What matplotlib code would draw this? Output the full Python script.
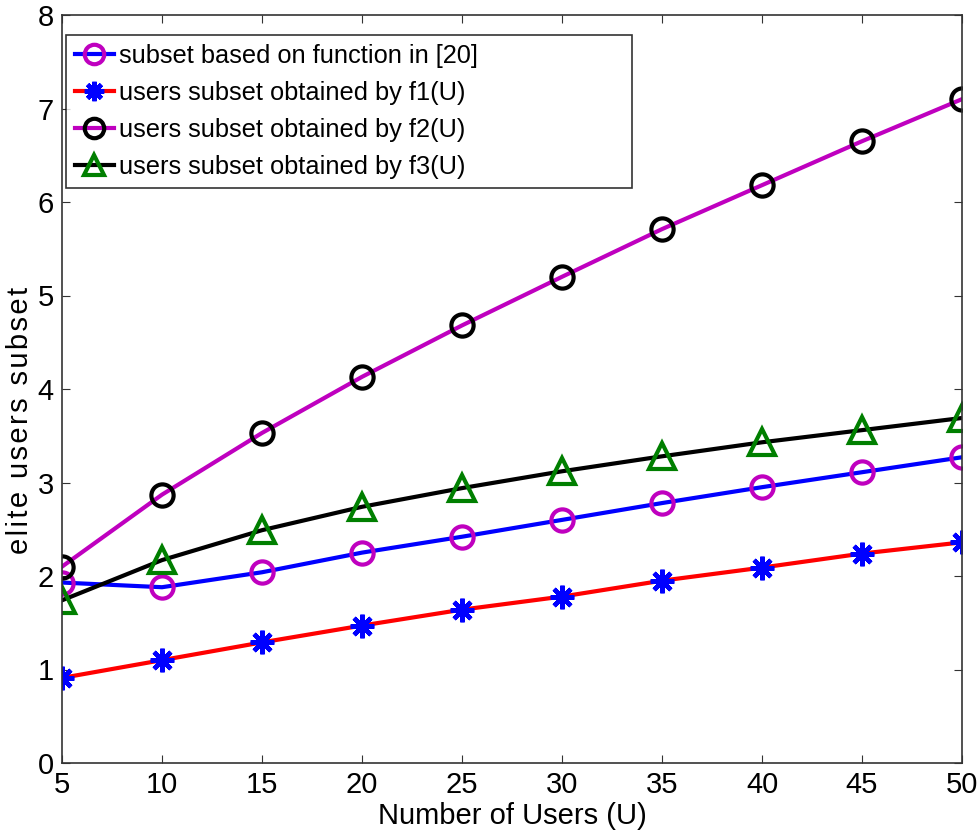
import numpy as np
import matplotlib.pyplot as plt

plt.rcParams['font.family'] = ['Liberation Sans', 'DejaVu Sans']

users = [5, 10, 15, 20, 25, 30, 35, 40, 45, 50]
ref20 = [1.93, 1.88, 2.04, 2.25, 2.42, 2.60, 2.78, 2.95, 3.11, 3.27]
f1 = [0.91, 1.10, 1.29, 1.47, 1.64, 1.78, 1.95, 2.09, 2.24, 2.36]
f2 = [2.10, 2.87, 3.53, 4.13, 4.68, 5.20, 5.71, 6.18, 6.65, 7.10]
f3 = [1.74, 2.17, 2.49, 2.74, 2.94, 3.12, 3.28, 3.43, 3.56, 3.69]
labels = ["subset based on function in [20]",
          "users subset obtained by f1(U)",
          "users subset obtained by f2(U)",
          "users subset obtained by f3(U)"]


def main():
	fig = plt.figure(figsize=(9.8, 8.36), dpi=100)
	ax = fig.add_axes([62/980, 1-763/836, 900/980, 748/836])
	lw = 3
	ax.plot(users, ref20, '-o', color='b', lw=lw, mec='#bf00bf', mfc='none', ms=16, mew=3, label=labels[0])
	ax.plot(users, f1, '-', marker=(8, 2, 0), color='r', lw=lw, mec='b', mfc='b', ms=17, mew=3.2, label=labels[1])
	ax.plot(users, f2, '-o', color='#bf00bf', lw=lw, mec='k', mfc='none', ms=16, mew=3, label=labels[2])
	ax.plot(users, f3, '-^', color='k', lw=lw, mec='#007f00', mfc='none', ms=19, mew=3, label=labels[3])

	ax.set_xlim(5, 50)
	ax.set_ylim(0, 8)
	ax.set_xticks(users)
	ax.set_yticks(range(9))
	ax.tick_params(direction='in', top=True, right=True, length=6, labelsize=21, pad=6, color='#333333')
	for s in ax.spines.values():
		s.set_linewidth(1.2)
		s.set_color('#333333')
	ax.set_xlabel("Number of Users (U)", fontsize=21, labelpad=2)
	# the original label is drawn with wide letter spacing
	ylab = "\u200a".join("elite users subset")
	ax.set_ylabel(ylab, fontsize=21)
	ax.yaxis.set_label_coords(-0.031, 0.458)

	leg = ax.legend(loc='upper left', bbox_to_anchor=(4/900, 0, 566/900, 0.9733), mode='expand',
		fontsize=18.3, frameon=True, fancybox=False, edgecolor='k',
		handlelength=1.5, handletextpad=0.2, borderpad=0.37,
		labelspacing=0.5, borderaxespad=0)
	leg.get_frame().set_linewidth(1.2)
	for h in leg.legend_handles:
		h.set_markersize(14)

	fig.savefig("out.png", dpi=100)


if __name__ == '__main__':
	main()
